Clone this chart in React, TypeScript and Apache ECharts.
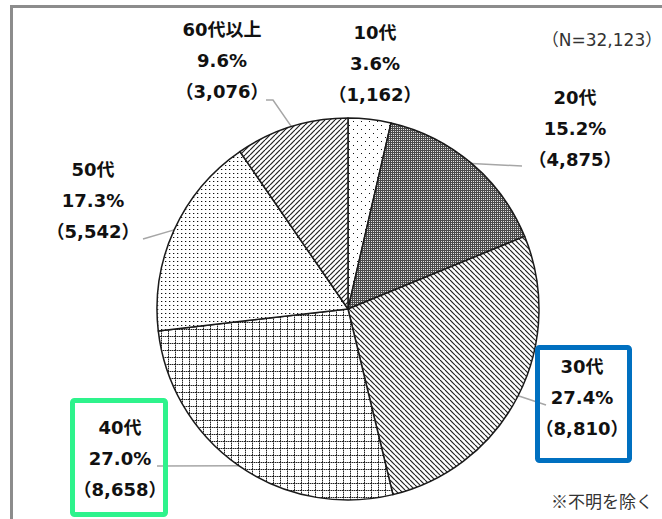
import React, { useEffect, useRef } from 'react';
import * as echarts from 'echarts';

const categories = ['10代', '20代', '30代', '40代', '50代', '60代以上'];
const counts = [1162, 4875, 8810, 8658, 5542, 3076];
const percents = ['3.6', '15.2', '27.4', '27.0', '17.3', '9.6'];
const totalLabel = '（N=32,123）';
const noteLabel = '※不明を除く';

// label layout (positions of label blocks and leader-line bends/ends)
const LABEL_POS: { x: number; y: number; line: number[][] | null }[] = [
  { x: 375, y: 63, line: null },
  { x: 575, y: 128, line: [[522, 166], [522, 166]] },
  { x: 582, y: 397, line: [[546, 405], [546, 405]] },
  { x: 120, y: 458, line: [[157, 466], [157, 466]] },
  { x: 93, y: 200, line: [[143, 239], [143, 239]] },
  { x: 222, y: 60, line: [[273, 100], [266, 100]] },
];

type Draw = (ctx: CanvasRenderingContext2D, w: number, h: number) => void;

function makePattern(w: number, h: number, draw: Draw) {
  const c = document.createElement('canvas');
  c.width = w;
  c.height = h;
  const ctx = c.getContext('2d')!;
  ctx.fillStyle = '#ffffff';
  ctx.fillRect(0, 0, w, h);
  draw(ctx, w, h);
  return { image: c, repeat: 'repeat', imageWidth: w, imageHeight: h } as any;
}

function buildPatterns() {
  const sparseDots = makePattern(8, 8, (ctx) => {
    ctx.fillStyle = '#111';
    ctx.fillRect(1, 1, 1, 1);
    ctx.fillRect(5, 5, 1, 1);
  });
  const denseGrid = makePattern(2, 2, (ctx) => {
    ctx.fillStyle = '#4a4a4a';
    ctx.fillRect(0, 0, 2, 2);
    ctx.fillStyle = '#e0e0e0';
    ctx.fillRect(1, 1, 1, 1);
  });
  const hatchBack = makePattern(5, 5, (ctx, w, h) => {
    ctx.strokeStyle = '#222';
    ctx.lineWidth = 1.2;
    for (const k of [-w, 0, w]) {
      ctx.beginPath();
      ctx.moveTo(k, 0);
      ctx.lineTo(k + w, h);
      ctx.stroke();
    }
  });
  const squareGrid = makePattern(7, 7, (ctx) => {
    for (let x = 0; x < 7; x++) {
      ctx.fillStyle = x % 2 === 0 ? '#222' : '#9a9a9a';
      ctx.fillRect(x, 0, 1, 1);
    }
    for (let y = 1; y < 7; y++) {
      ctx.fillStyle = y % 2 === 0 ? '#222' : '#9a9a9a';
      ctx.fillRect(0, y, 1, 1);
    }
  });
  const denseDots = makePattern(4, 4, (ctx) => {
    ctx.fillStyle = '#111';
    ctx.fillRect(1, 1, 1, 1);
    ctx.fillStyle = '#bbb';
    ctx.fillRect(2, 1, 1, 1);
  });
  const hatchFwd = makePattern(5, 5, (ctx, w, h) => {
    ctx.strokeStyle = '#222';
    ctx.lineWidth = 1.2;
    for (const k of [-w, 0, w]) {
      ctx.beginPath();
      ctx.moveTo(k, h);
      ctx.lineTo(k + w, 0);
      ctx.stroke();
    }
  });
  return [sparseDots, denseGrid, hatchBack, squareGrid, denseDots, hatchFwd];
}

const FONT = "'DejaVu Sans', 'Noto Sans CJK JP', sans-serif";

export default function App() {
  const ref = useRef<HTMLDivElement>(null);

  useEffect(() => {
    if (!ref.current) return;
    const chart = echarts.init(ref.current, undefined, { renderer: 'svg' });
    const patterns = buildPatterns();

    const data = categories.map((name, i) => ({
      name,
      value: counts[i],
      itemStyle: { color: patterns[i] },
      labelLine: { show: LABEL_POS[i].line !== null },
    }));

    chart.setOption({
      animation: false,
      backgroundColor: '#ffffff',
      series: [
        {
          type: 'pie',
          center: [348, 309],
          radius: 191,
          startAngle: 90,
          clockwise: true,
          avoidLabelOverlap: false,
          data,
          itemStyle: { borderColor: '#1a1a1a', borderWidth: 1.5 },
          emphasis: { disabled: true },
          label: {
            show: true,
            position: 'outside',
            color: '#111',
            fontFamily: FONT,
            fontWeight: 'bold',
            fontSize: 18,
            lineHeight: 31,
            align: 'center',
            formatter: (p: any) =>
              `${p.name}\n${percents[p.dataIndex]}%\n（${counts[p.dataIndex].toLocaleString('en-US')}）`,
          },
          labelLine: {
            show: true,
            length: 10,
            length2: 10,
            lineStyle: { color: '#a6a6a6', width: 1.5 },
          },
          labelLayout: (p: any) => {
            const L = LABEL_POS[p.dataIndex];
            const res: any = { x: L.x, y: L.y, align: 'center', verticalAlign: 'middle' };
            const start = p.labelLinePoints ? p.labelLinePoints[0] : null;
            if (start && L.line) res.labelLinePoints = [start, L.line[0], L.line[1]];
            return res;
          },
        },
      ],
      graphic: [
        {
          type: 'rect',
          shape: { x: 11.5, y: 6.5, width: 700, height: 600 },
          style: { fill: 'none', stroke: '#8c8c8c', lineWidth: 3 },
          silent: true,
          z: 5,
        },
        {
          type: 'rect',
          shape: { x: 537.5, y: 347.5, width: 92, height: 113, r: 2 },
          style: { fill: 'none', stroke: '#0070c0', lineWidth: 5 },
          silent: true,
          z: 10,
        },
        {
          type: 'rect',
          shape: { x: 72.5, y: 400.5, width: 93, height: 114, r: 2 },
          style: { fill: 'none', stroke: '#2ef38c', lineWidth: 5 },
          silent: true,
          z: 10,
        },
        {
          type: 'text',
          style: {
            text: totalLabel,
            x: 602,
            y: 40,
            textAlign: 'center',
            textVerticalAlign: 'middle',
            fontSize: 17,
            fontFamily: FONT,
            fill: '#333',
          },
          z: 10,
        },
        {
          type: 'text',
          style: {
            text: noteLabel,
            x: 602,
            y: 500,
            textAlign: 'center',
            textVerticalAlign: 'middle',
            fontSize: 17,
            fontFamily: "'Noto Sans CJK JP', sans-serif",
            fill: '#333',
          },
          z: 10,
        },
      ],
    });

    return () => chart.dispose();
  }, []);

  return (
    <div
      ref={ref}
      style={{ position: 'absolute', left: 0, top: 0, width: 662, height: 519, background: '#fff' }}
    />
  );
}
